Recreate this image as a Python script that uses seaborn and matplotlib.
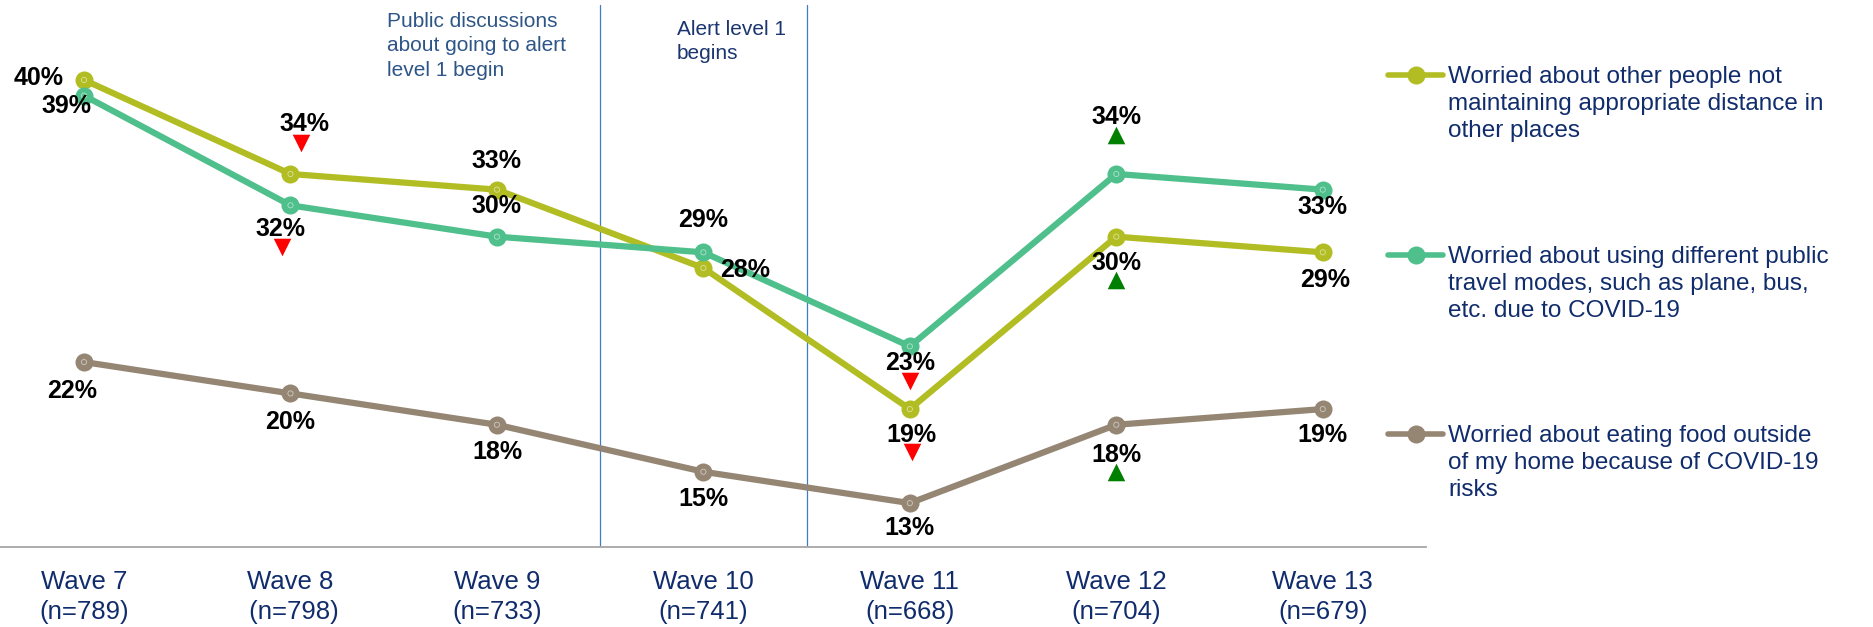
import matplotlib
matplotlib.use("Agg")
import matplotlib.pyplot as plt
import matplotlib.transforms as mtransforms
from matplotlib.lines import Line2D
import pandas as pd
import seaborn as sns

# ---- data -------------------------------------------------------------
waves = ["Wave 7", "Wave 8", "Wave 9", "Wave 10", "Wave 11", "Wave 12", "Wave 13"]
sample_sizes = ["(n=789)", " (n=798)", "(n=733)", "(n=741)", "(n=668)", "(n=704)", "(n=679)"]

series_names = [
    "Worried about other people not\nmaintaining appropriate distance in\nother places",
    "Worried about using different public\ntravel modes, such as plane, bus,\netc. due to COVID-19",
    "Worried about eating food outside\nof my home because of COVID-19\nrisks",
]
distance_others = [40, 34, 33, 28, 19, 30, 29]
public_travel = [39, 32, 30, 29, 23, 34, 33]
eating_out = [22, 20, 18, 15, 13, 18, 19]

# significant change vs previous wave: -1 down, +1 up, 0 none
distance_sig = [0, -1, 0, 0, -1, 1, 0]
travel_sig = [0, -1, 0, 0, -1, 1, 0]
eating_sig = [0, 0, 0, 0, 0, 1, 0]

colors = ["#B1BD23", "#4FBF8C", "#958674"]
text_navy = "#102C6C"

# label offsets (pixels) from each point, and offsets of the change arrows
label_offsets = [
    [(-45, 2), (14, 50), (0, 29), (42, -2), (2, -26), (0, -26), (2, -28)],
    [(-18, -10), (-10, -24), (0, 31), (0, 32), (0, -17), (0, 57), (0, -17)],
    [(-12, -29), (0, -29), (0, -27), (0, -27), (0, -25), (0, -30), (0, -26)],
]
arrow_offsets = [
    {1: (11, 31), 4: (2, -43), 5: (0, -43)},
    {1: (-8, -42), 4: (0, -35), 5: (0, 39)},
    {5: (0, -47)},
]

values = [distance_others, public_travel, eating_out]
sigs = [distance_sig, travel_sig, eating_sig]

df = pd.DataFrame({
    "pos": list(range(len(waves))) * 3,
    "value": distance_others + public_travel + eating_out,
    "series": [s for s in series_names for _ in waves],
})

# ---- figure -----------------------------------------------------------
sns.set_style("white")
plt.rcParams["font.family"] = ["Liberation Sans", "DejaVu Sans"]

W, H = 1874, 627
fig = plt.figure(figsize=(W / 100, H / 100), dpi=100)
axis_y = 547
plot_right = 1426
ax = fig.add_axes([0, 1 - axis_y / H, plot_right / W, axis_y / H])

sns.lineplot(
    data=df, x="pos", y="value", hue="series", hue_order=series_names,
    palette=colors, marker="o", markersize=13, markeredgewidth=0,
    linewidth=4.5, legend=False, sort=False, ax=ax,
)
# faint highlight inside each marker
for vals in values:
    ax.scatter(range(len(vals)), vals, s=14, facecolors="none",
               edgecolors="white", linewidths=0.6, alpha=0.55, zorder=5)

# phase markers
for xv in (2.5, 3.5):
    ax.axvline(xv, ymin=0, ymax=0.991, color="#3D7EC2", lw=0.9, zorder=1)

# axes styling
for side in ("top", "right", "left"):
    ax.spines[side].set_visible(False)
ax.spines["bottom"].set_color("#A6A6A6")
ax.spines["bottom"].set_linewidth(1.3)
ax.set_yticks([])
ax.set_xticks([i - 0.5 for i in range(len(waves) + 1)])
ax.set_xticklabels([])
ax.tick_params(axis="x", direction="out", length=7.5, width=1,
               color="#A6A6A6")
ax.set_xlabel("")
ax.set_ylabel("")
ax.set_xlim(-0.407, 6.5)
ax.set_ylim(10.2, 45.1)

# value labels and change arrows
for si, (vals, sig) in enumerate(zip(values, sigs)):
    for i, v in enumerate(vals):
        dx, dy = label_offsets[si][i]
        ax.annotate(f"{v}%", xy=(i, v), xytext=(dx, dy),
                    textcoords="offset pixels", ha="center", va="center",
                    fontsize=18, fontweight="bold", color="black", zorder=6)
        if sig[i] != 0:
            adx, ady = arrow_offsets[si][i]
            tr = mtransforms.offset_copy(ax.transData, fig=fig, x=adx, y=ady,
                                         units="dots")
            ax.scatter([i], [v], marker="v" if sig[i] < 0 else "^",
                       s=160, color="#FF0000" if sig[i] < 0 else "#007F00",
                       linewidths=0, transform=tr, zorder=6)

for i, (w, n) in enumerate(zip(waves, sample_sizes)):
    ax.annotate(f"{w}\n{n}", xy=(i, 0), xycoords=("data", "axes fraction"),
                xytext=(0, -50), textcoords="offset pixels",
                ha="center", va="center", fontsize=18.5, color=text_navy,
                linespacing=1.28)

# event notes
fig.text(387 / W, 1 - 12 / H,
         "Public discussions\nabout going to alert\nlevel 1 begin",
         ha="left", va="top", fontsize=15, color="#2E5587", linespacing=1.35)
fig.text(677 / W, 1 - 20 / H, "Alert level 1\nbegins",
         ha="left", va="top", fontsize=15, color="#1B3570", linespacing=1.35)

# legend
legend_y = [75, 255, 434]
for name, col, ly in zip(series_names, colors, legend_y):
    yf = 1 - ly / H
    fig.add_artist(Line2D([1388 / W, 1443 / W], [yf, yf], color=col, lw=4,
                          transform=fig.transFigure))
    fig.add_artist(Line2D([1416 / W], [yf], color=col, marker="o",
                          markersize=13, markeredgewidth=0,
                          transform=fig.transFigure))
    fig.text(1448 / W, 1 - (ly - 9) / H, name, ha="left", va="top",
             fontsize=17.5, color=text_navy, linespacing=1.3)

fig.savefig("out.png", dpi=100, facecolor="white")
